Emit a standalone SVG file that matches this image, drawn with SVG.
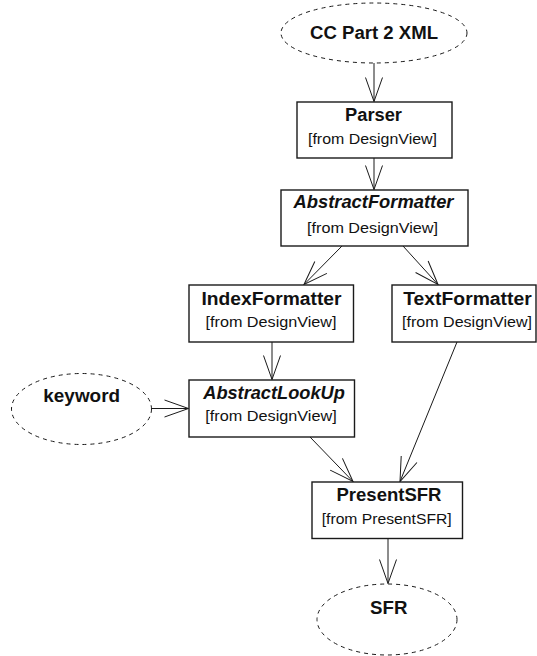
<svg xmlns="http://www.w3.org/2000/svg" width="537" height="656" viewBox="0 0 537 656">
<defs>
<style>
.box{fill:#fff;stroke:#1a1a1a;stroke-width:1.4}
.ell{fill:#fff;stroke:#1a1a1a;stroke-width:1;stroke-dasharray:4 4}
.t{font-family:"Liberation Sans",Arial,sans-serif;font-size:18px;font-weight:bold;fill:#111;text-anchor:middle}
.ti{font-style:italic}
.s{font-family:"Liberation Sans",Arial,sans-serif;font-size:14px;fill:#111;text-anchor:middle}
.c{fill:none;stroke:#1a1a1a;stroke-width:1}
</style>
<marker id="ah" markerUnits="userSpaceOnUse" orient="auto" markerWidth="30" markerHeight="24" refX="0" refY="0" viewBox="-26 -12 30 24" overflow="visible">
<path d="M-24,-8.5 L0,0 L-24,8.5" fill="none" stroke="#1a1a1a" stroke-width="1"/>
</marker>
</defs>
<rect width="537" height="656" fill="#fff"/>
<g id="connectors">
<line class="c" x1="374" y1="63" x2="374" y2="101.5" marker-end="url(#ah)"/>
<line class="c" x1="374" y1="158" x2="374" y2="189.5" marker-end="url(#ah)"/>
<line class="c" x1="342" y1="246" x2="304" y2="284.5" marker-end="url(#ah)"/>
<line class="c" x1="403" y1="246" x2="438" y2="284.5" marker-end="url(#ah)"/>
<line class="c" x1="272" y1="342" x2="272" y2="379.5" marker-end="url(#ah)"/>
<line class="c" x1="151.5" y1="408.5" x2="188.5" y2="408.5" marker-end="url(#ah)"/>
<line class="c" x1="310" y1="437" x2="353" y2="481.5" marker-end="url(#ah)"/>
<line class="c" x1="457" y1="342" x2="400" y2="481.5" marker-end="url(#ah)"/>
<line class="c" x1="388" y1="538" x2="388" y2="583.5" marker-end="url(#ah)"/>
</g>
<g id="cc-part2-xml">
<ellipse class="ell" cx="374" cy="33" rx="93" ry="30"/>
<text class="t" x="374" y="39" textLength="128" lengthAdjust="spacingAndGlyphs">CC Part 2 XML</text>
</g>
<g id="parser">
<rect class="box" x="297" y="102" width="155" height="56"/>
<text class="t" x="373.5" y="121" textLength="57" lengthAdjust="spacingAndGlyphs">Parser</text>
<text class="s" x="372.5" y="143.5" textLength="129" lengthAdjust="spacingAndGlyphs">[from DesignView]</text>
</g>
<g id="abstract-formatter">
<rect class="box" x="281" y="190" width="187" height="56"/>
<text class="t ti" x="373.5" y="208" textLength="160" lengthAdjust="spacingAndGlyphs">AbstractFormatter</text>
<text class="s" x="372.5" y="232.5" textLength="131" lengthAdjust="spacingAndGlyphs">[from DesignView]</text>
</g>
<g id="index-formatter">
<rect class="box" x="189" y="285" width="164.5" height="57"/>
<text class="t" x="271.5" y="304.5" textLength="140" lengthAdjust="spacingAndGlyphs">IndexFormatter</text>
<text class="s" x="271" y="326.5" textLength="131" lengthAdjust="spacingAndGlyphs">[from DesignView]</text>
</g>
<g id="text-formatter">
<rect class="box" x="392" y="285" width="144" height="57"/>
<text class="t" x="467.5" y="304.5" textLength="128.5" lengthAdjust="spacingAndGlyphs">TextFormatter</text>
<text class="s" x="467" y="326.5" textLength="130" lengthAdjust="spacingAndGlyphs">[from DesignView]</text>
</g>
<g id="abstract-lookup">
<rect class="box" x="189" y="380" width="165.5" height="57"/>
<text class="t ti" x="274" y="399" textLength="141.5" lengthAdjust="spacingAndGlyphs">AbstractLookUp</text>
<text class="s" x="271" y="421" textLength="131.5" lengthAdjust="spacingAndGlyphs">[from DesignView]</text>
</g>
<g id="keyword">
<ellipse class="ell" cx="81.5" cy="409" rx="70" ry="35.5"/>
<text class="t" x="81.7" y="401.7" textLength="76.7" lengthAdjust="spacingAndGlyphs">keyword</text>
</g>
<g id="present-sfr">
<rect class="box" x="312" y="482" width="150.5" height="56.5"/>
<text class="t" x="389" y="501" textLength="105" lengthAdjust="spacingAndGlyphs">PresentSFR</text>
<text class="s" x="386.7" y="523.7" textLength="130" lengthAdjust="spacingAndGlyphs">[from PresentSFR]</text>
</g>
<g id="sfr">
<ellipse class="ell" cx="387" cy="619.5" rx="70" ry="35.5"/>
<text class="t" x="388.7" y="614" textLength="37.3" lengthAdjust="spacingAndGlyphs">SFR</text>
</g>
</svg>
